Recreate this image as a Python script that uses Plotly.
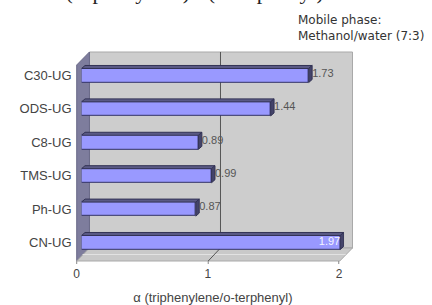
import plotly.graph_objects as go

# ---- data ----
categories = ["C30-UG", "ODS-UG", "C8-UG", "TMS-UG", "Ph-UG", "CN-UG"]
values = [1.73, 1.44, 0.89, 0.99, 0.87, 1.97]
value_labels = ["1.73", "1.44", "0.89", "0.99", "0.87", "1.97"]
x_ticks = [0, 1, 2]
x_tick_labels = ["0", "1", "2"]
x_title = "α (triphenylene/o-terphenyl)"
top_title = "α(triphenylene)/α(o-terphenyl)"
note = "Mobile phase:<br>Methanol/water (7:3)"

W, H = 432, 305
def X(px): return px / W
def Y(py): return 1 - py / H

n = len(categories)
pos = [n - 1 - i for i in range(n)]  # top to bottom
half = 0.21
dx, dy = 0.026, 0.09

fig = go.Figure()

# front faces
fig.add_trace(go.Bar(
    x=values, y=pos, orientation="h", width=2 * half,
    marker=dict(color="#9999ff", line=dict(color="#333366", width=1)),
    hoverinfo="skip", showlegend=False))

# top faces and side faces (3D effect) from values
tx, ty, sx, sy = [], [], [], []
for v, p in zip(values, pos):
    yt, yb = p + half, p - half
    tx += [0, v, v + dx, dx, 0, None]
    ty += [yt, yt, yt + dy, yt + dy, yt, None]
    sx += [v, v + dx, v + dx, v, v, None]
    sy += [yb, yb + dy, yt + dy, yt, yb, None]
fig.add_trace(go.Scatter(x=tx, y=ty, mode="lines", fill="toself",
                         fillcolor="#5a5a85", line=dict(color="#333355", width=1),
                         hoverinfo="skip", showlegend=False))
fig.add_trace(go.Scatter(x=sx, y=sy, mode="lines", fill="toself",
                         fillcolor="#44446a", line=dict(color="#333355", width=1),
                         hoverinfo="skip", showlegend=False))

# value labels
out_x = [v + dx for v in values[:-1]]
out_y = [p + dy / 2 for p in pos[:-1]]
fig.add_trace(go.Scatter(x=out_x, y=out_y, mode="text", text=value_labels[:-1],
                         textposition="middle right",
                         textfont=dict(family="Liberation Sans", size=11, color="#555555"),
                         hoverinfo="skip", showlegend=False))
fig.add_trace(go.Scatter(x=[values[-1]], y=[pos[-1]], mode="text", text=[value_labels[-1]],
                         textposition="middle left",
                         textfont=dict(family="Liberation Sans", size=11, color="#f4f4ff"),
                         hoverinfo="skip", showlegend=False))

def path(pts):
    s = "M " + " L ".join(f"{X(a):.5f},{Y(b):.5f}" for a, b in pts) + " Z"
    return s

shapes = [
    # back wall
    dict(type="rect", xref="paper", yref="paper", x0=X(83), x1=X(351), y0=Y(248), y1=Y(52),
         fillcolor="#cdcdcd", line=dict(color="#a9a9a9", width=1), layer="below"),
    # left wall
    dict(type="path", xref="paper", yref="paper", path=path([(70, 65), (83, 52), (83, 248), (70, 261)]),
         fillcolor="#7e7d9d", line=dict(color="#6a6a88", width=1), layer="below"),
    # floor
    dict(type="path", xref="paper", yref="paper", path=path([(70, 261), (83, 248), (351, 248), (338, 261)]),
         fillcolor="#c9c9c9", line=dict(color="#a9a9a9", width=1), layer="below"),
    dict(type="line", xref="paper", yref="paper", x0=X(76), x1=X(344), y0=Y(254.5), y1=Y(254.5),
         line=dict(color="#e2e2e2", width=1), layer="below"),
    # gridline at 1
    dict(type="path", xref="paper", yref="paper",
         path=f"M {X(216.5):.5f},{Y(52):.5f} L {X(216.5):.5f},{Y(248):.5f} L {X(204):.5f},{Y(261):.5f}",
         line=dict(color="#555555", width=1), layer="below"),
]
for px in (70, 204, 337):
    shapes.append(dict(type="line", xref="paper", yref="paper", x0=X(px), x1=X(px),
                       y0=Y(261), y1=Y(264), line=dict(color="#888888", width=1)))

annotations = [
    dict(text=note, xref="paper", yref="paper", x=X(293), y=Y(11), xanchor="left", yanchor="top",
         align="left", showarrow=False, font=dict(family="DejaVu Sans", size=12, color="#333333")),
    dict(text=top_title, xref="paper", yref="paper", x=X(184), y=Y(6.5), xanchor="center", yanchor="bottom",
         showarrow=False, font=dict(family="Liberation Serif", size=22, color="#222222")),
]

fig.update_layout(
    width=W, height=H, autosize=False,
    margin=dict(l=0, r=0, t=0, b=0),
    paper_bgcolor="white", plot_bgcolor="rgba(0,0,0,0)",
    shapes=shapes, annotations=annotations, showlegend=False, bargap=0,
    xaxis=dict(domain=[X(75), X(342.5)], range=[0, 2], tickvals=x_ticks, ticktext=x_tick_labels,
               showgrid=False, zeroline=False, showline=False, ticks="",
               ticklabelshift=-5, ticklabelstandoff=6,
               tickfont=dict(family="Liberation Sans", size=12, color="#444444"),
               title=dict(text=x_title, standoff=14,
                          font=dict(family="Liberation Sans", size=13, color="#444444"))),
    yaxis=dict(domain=[Y(259.2), Y(58.8)], range=[-0.5, n - 0.5], tickvals=pos, ticktext=categories,
               showgrid=False, zeroline=False, showline=False, ticks="",
               ticklabelstandoff=9,
               tickfont=dict(family="Liberation Sans", size=13, color="#444444")),
)

fig.write_html("out.html", config={"displayModeBar": False},
               post_script="document.body.style.margin='0';document.body.style.overflow='hidden';")
